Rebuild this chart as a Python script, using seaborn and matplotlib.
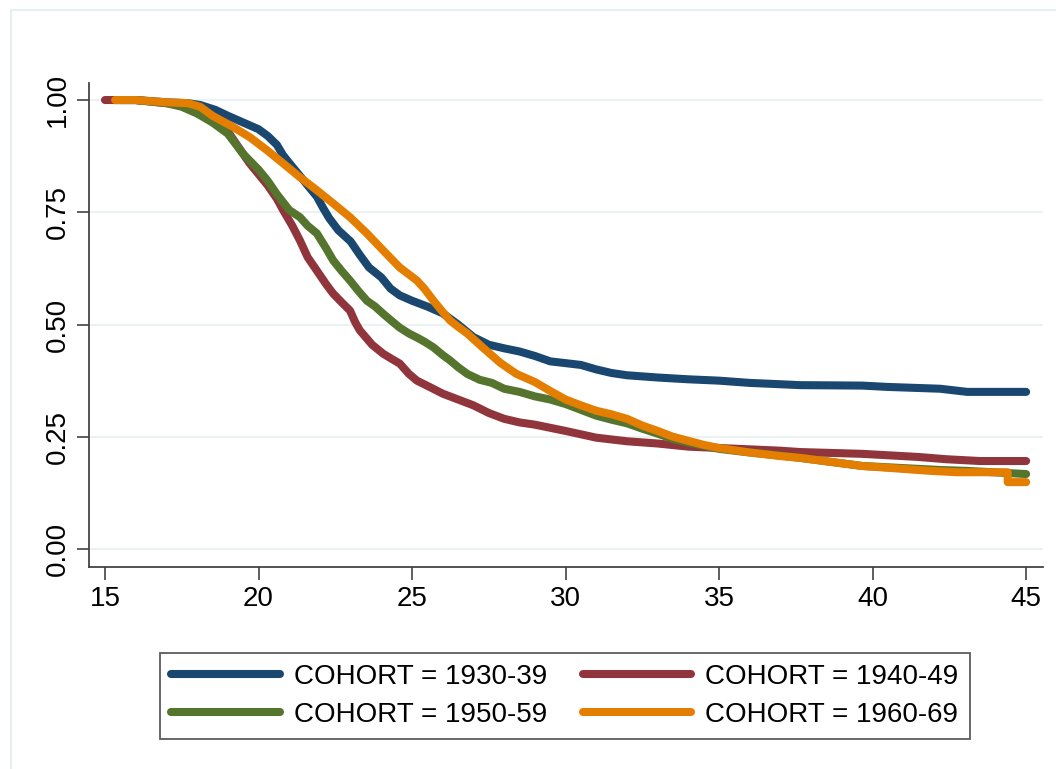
import pandas as pd
import seaborn as sns
import matplotlib.pyplot as plt
from matplotlib.patches import Rectangle

# survival estimates, by cohort
age_1930 = [15.3, 16, 17, 17.7, 18.1, 18.6, 19, 19.5, 20, 20.3, 20.6, 20.8, 21, 21.3, 21.6, 21.9,
            22.1, 22.3, 22.6, 23, 23.3, 23.6, 24, 24.3, 24.6, 25, 25.5, 26, 26.5, 27, 27.5, 28,
            28.5, 29, 29.5, 30, 30.5, 31, 31.5, 32, 33, 34, 35, 36, 37, 37.64, 39.66, 40.5,
            42.2, 43.08, 45]
surv_1930 = [1.0, 1.0, 0.995, 0.993, 0.989, 0.978, 0.965, 0.95, 0.935, 0.92, 0.9, 0.877, 0.86,
             0.835, 0.81, 0.785, 0.76, 0.737, 0.71, 0.685, 0.655, 0.627, 0.605, 0.58, 0.565,
             0.553, 0.54, 0.525, 0.5, 0.472, 0.455, 0.447, 0.44, 0.43, 0.418, 0.414, 0.41, 0.4,
             0.392, 0.387, 0.382, 0.378, 0.375, 0.37, 0.367, 0.365, 0.364, 0.361, 0.357, 0.35,
             0.35]

age_1940 = [15, 16, 17, 18, 18.5, 19, 19.3, 19.7, 20, 20.3, 20.6, 20.8, 21.1, 21.35, 21.6, 21.9,
            22.2, 22.43, 22.7, 22.98, 23.15, 23.3, 23.7, 24.06, 24.3, 24.6, 24.9, 25.16, 25.6,
            26, 26.5, 27, 27.5, 28, 28.5, 29, 30, 31, 32, 33, 34, 35, 36, 37, 37.64, 39.66,
            41.5, 42.4, 43.5, 45]
surv_1940 = [1.0, 1.0, 0.993, 0.985, 0.965, 0.93, 0.9, 0.86, 0.835, 0.81, 0.78, 0.755, 0.72,
             0.687, 0.65, 0.62, 0.59, 0.569, 0.55, 0.531, 0.505, 0.487, 0.455, 0.435, 0.425,
             0.413, 0.39, 0.375, 0.36, 0.346, 0.333, 0.32, 0.303, 0.29, 0.282, 0.277, 0.263,
             0.248, 0.24, 0.235, 0.228, 0.225, 0.222, 0.219, 0.216, 0.212, 0.205, 0.2, 0.196,
             0.196]

age_1950 = [15.5, 16, 17, 17.5, 18, 18.5, 19, 19.5, 20, 20.3, 20.6, 21, 21.35, 21.6, 21.9, 22.2,
            22.43, 22.7, 22.98, 23.25, 23.53, 23.8, 24.06, 24.3, 24.6, 24.9, 25.16, 25.4, 25.7,
            26, 26.24, 26.5, 26.8, 27.2, 27.6, 28, 28.5, 29, 29.5, 30, 30.5, 31, 31.5, 32, 32.5,
            33, 33.5, 34, 34.5, 35, 36, 37, 37.64, 39.66, 42.2, 43.08, 45]
surv_1950 = [1.0, 1.0, 0.993, 0.985, 0.97, 0.95, 0.925, 0.88, 0.845, 0.82, 0.79, 0.755, 0.739,
             0.72, 0.703, 0.67, 0.643, 0.62, 0.598, 0.575, 0.553, 0.54, 0.524, 0.51, 0.493, 0.48,
             0.471, 0.462, 0.449, 0.432, 0.42, 0.405, 0.39, 0.377, 0.37, 0.357, 0.35, 0.34,
             0.333, 0.323, 0.31, 0.297, 0.288, 0.28, 0.268, 0.257, 0.245, 0.237, 0.23, 0.223,
             0.215, 0.208, 0.203, 0.185, 0.176, 0.174, 0.167]

age_1960 = [15.33, 16, 17, 17.7, 18.1, 18.5, 19.17, 19.72, 20.28, 20.8, 21.35, 21.9, 22.43,
            22.98, 23.53, 24.06, 24.6, 25.16, 25.4, 25.7, 26, 26.24, 26.5, 26.8, 27.3, 27.87,
            28.4, 29, 29.5, 30, 30.5, 31, 31.5, 32, 32.5, 33, 33.5, 34, 34.5, 35, 36, 37,
            37.64, 39.66, 41.9, 42.75, 44.4, 44.4, 45]
surv_1960 = [1.0, 1.0, 0.995, 0.993, 0.985, 0.965, 0.94, 0.917, 0.888, 0.859, 0.828, 0.799,
             0.77, 0.739, 0.703, 0.665, 0.627, 0.598, 0.58, 0.553, 0.528, 0.509, 0.495, 0.48,
             0.449, 0.415, 0.39, 0.372, 0.352, 0.333, 0.32, 0.308, 0.3, 0.29, 0.275, 0.263,
             0.25, 0.241, 0.232, 0.225, 0.215, 0.207, 0.203, 0.185, 0.174, 0.171, 0.171, 0.149,
             0.149]

cohorts = ["COHORT = 1930-39", "COHORT = 1940-49", "COHORT = 1950-59", "COHORT = 1960-69"]
colors = ["#1a476f", "#90353b", "#55752f", "#e37e00"]

frames = []
for name, a, s in zip(cohorts, [age_1930, age_1940, age_1950, age_1960],
                      [surv_1930, surv_1940, surv_1950, surv_1960]):
    frames.append(pd.DataFrame({"age": a, "surv": s, "cohort": name}))
df = pd.concat(frames, ignore_index=True)

sns.set_theme(style="white")
plt.rcParams["font.family"] = ["Liberation Sans", "DejaVu Sans"]
plt.rcParams["text.color"] = "black"

fig = plt.figure(figsize=(10.56, 7.69), dpi=100)
ax = fig.add_axes([0.0843, 0.2627, 0.9034, 0.6294])

for y in [0, 0.25, 0.5, 0.75, 1.0]:
    ax.axhline(y, color="#eaf2f3", lw=1.6, zorder=0)

sns.lineplot(data=df, x="age", y="surv", hue="cohort", units="cohort", estimator=None,
             sort=False, palette=dict(zip(cohorts, colors)), lw=5.8,
             solid_capstyle="round", solid_joinstyle="round", legend=False, ax=ax)

ax.set_xlim(14.48, 45.55)
ax.set_ylim(-0.040, 1.038)
ax.set_xticks([15, 20, 25, 30, 35, 40, 45])
ax.set_yticks([0, 0.25, 0.5, 0.75, 1.0])
ax.set_yticklabels(["0.00", "0.25", "0.50", "0.75", "1.00"], rotation=90, va="center")
ax.set_xlabel("")
ax.set_ylabel("")
ax.tick_params(axis="both", labelsize=20, length=9, width=1.1, color="#333333",
               labelcolor="black", direction="out", bottom=True, left=True)
ax.tick_params(axis="x", pad=5)
ax.tick_params(axis="y", pad=4)
for side in ["top", "right"]:
    ax.spines[side].set_visible(False)
for side in ["left", "bottom"]:
    ax.spines[side].set_color("#444444")
    ax.spines[side].set_linewidth(1.3)

# legend, filled row by row
order = [0, 2, 1, 3]
handles = [plt.Line2D([], [], color=colors[i], lw=5.8, solid_capstyle="round") for i in order]
labels = [cohorts[i] for i in order]
leg = fig.legend(handles, labels, ncol=2, loc="center", bbox_to_anchor=(0.535, 0.095),
                 fontsize=20, frameon=True, fancybox=False, edgecolor="#333333",
                 handlelength=3.9, handletextpad=0.5, columnspacing=1.3,
                 labelspacing=0.42, borderpad=0.4, labelcolor="black")
leg.get_frame().set_linewidth(1.3)

# outer frame of the graph region
fig.add_artist(Rectangle((11 / 1056, -0.1), 1.2, 1 - 10 / 769 + 0.1, transform=fig.transFigure,
                         fill=False, edgecolor="#e6eef1", lw=1.5))

fig.savefig("out.png", dpi=100)
